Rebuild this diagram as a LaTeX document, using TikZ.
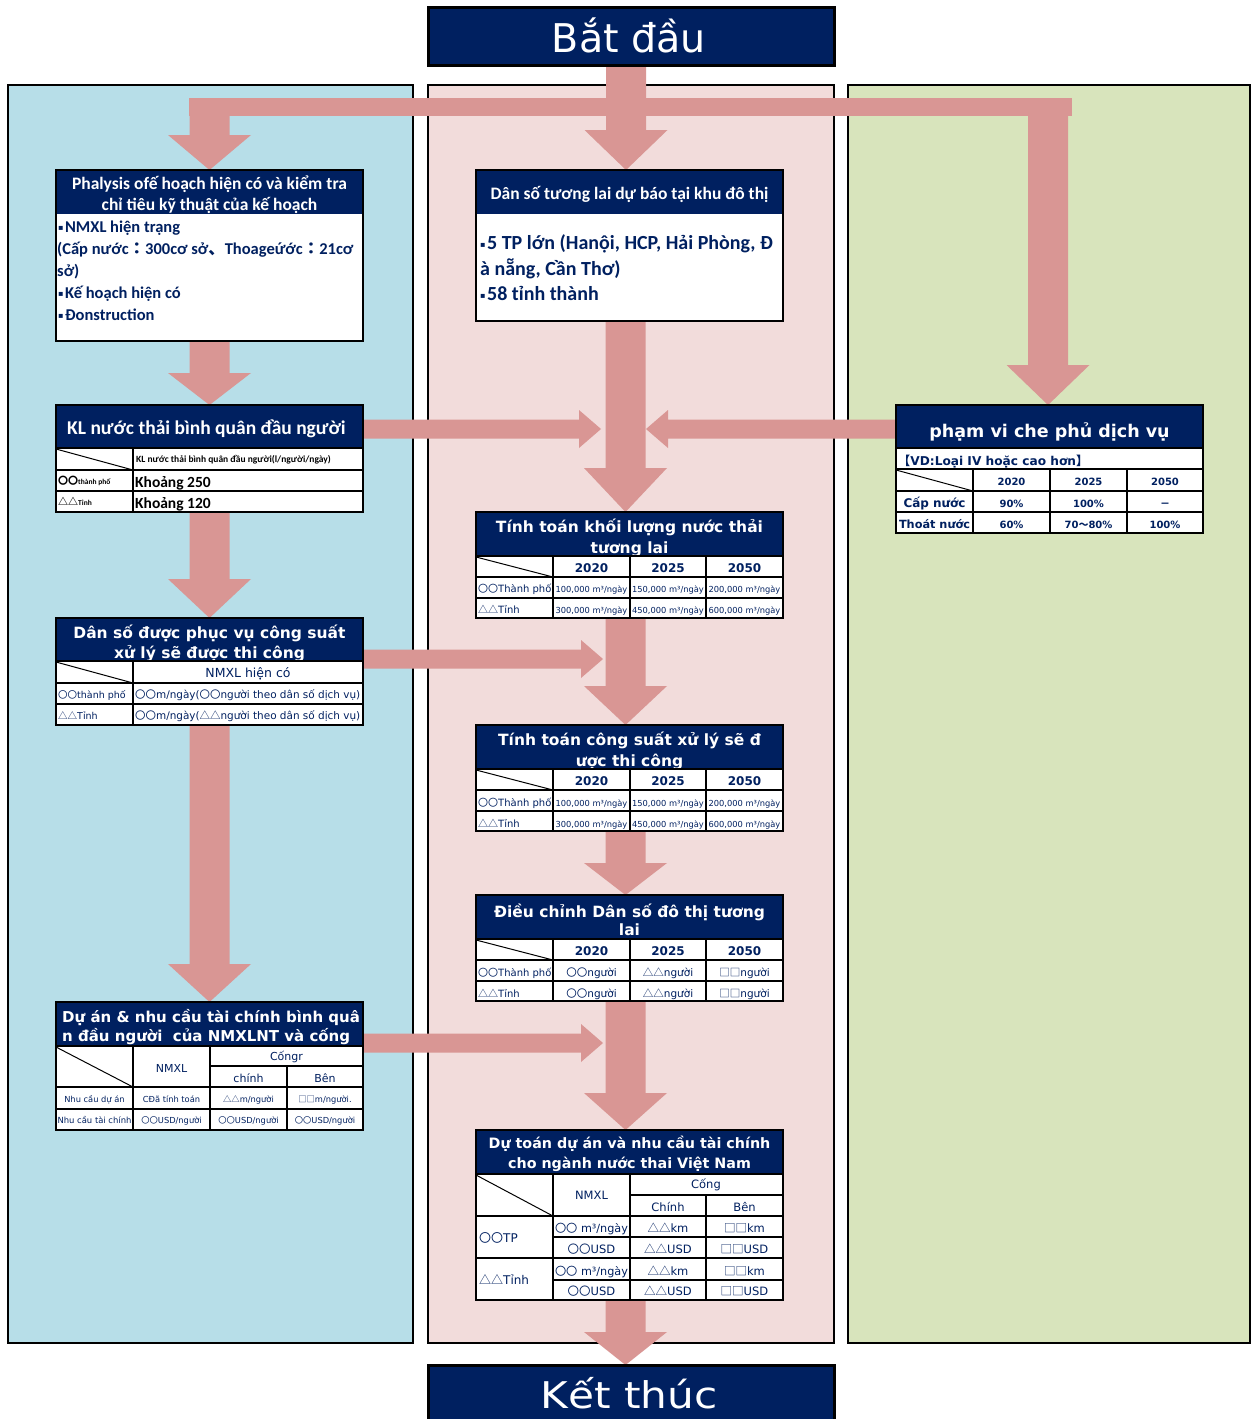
\documentclass[tikz,border=0pt]{standalone}
\usepackage{fontspec}
\usepackage{graphicx}
\setmainfont{Carlito}
\newfontfamily\dv{DejaVu Sans}
\newfontfamily\cjk{Noto Sans CJK JP}
\usetikzlibrary{calc}
\pgfdeclarelayer{bg}
\pgfdeclarelayer{arr}
\pgfsetlayers{bg,arr,main}

\definecolor{navy}{HTML}{002060}
\definecolor{salmon}{HTML}{D99694}
\definecolor{paneL}{HTML}{B7DEE8}
\definecolor{paneM}{HTML}{F2DCDB}
\definecolor{paneR}{HTML}{D8E4BC}

\newcommand\fs[2]{\fontsize{#1}{#2}\selectfont}
\newcommand\cO{{\cjk 〇〇}}
\newcommand\cT{{\cjk △△}}
\newcommand\cS{{\cjk □□}}
\newcommand\bul{{\dv\fs{8}{8}\raisebox{0.3ex}{▪}}\hspace{1.5pt}}

\tikzset{
  pane/.style={draw=black, line width=2.6pt, inner sep=0pt, outer sep=0pt, anchor=north west},
  frame/.style={draw=black, line width=2.6pt},
  grid/.style={draw=black, line width=1.6pt},
  diag/.style={draw=black, line width=1pt},
  blk/.style={fill=salmon},
  htx/.style={inner sep=0pt, text=white, anchor=base},
  tx/.style={inner sep=0pt, text=navy, anchor=base},
  bk/.style={inner sep=0pt, text=black, anchor=base},
  ghd/.style={htx, font=\dv\bfseries\fs{15.5}{15.5}},
}

% white card with a navy title strip and a black frame
\newcommand\card[6]{%
  \node[fill=white, inner sep=0pt, outer sep=0pt, anchor=north west,
        minimum width={(#4-#2)*1pt}, minimum height={(#5-#3)*1pt}] (#1) at (#2,#3) {};
  \fill[navy] (#2,#3) rectangle (#4,#6);
  \draw[frame] (#2,#3) rectangle (#4,#5);}

% fat downward arrow: tail, tip, head length
\newcommand\blkdown[3]{%
  \fill[blk] let \p1=(#1), \p2=(#2) in
    (\x1-20pt,\y1) -- (\x1+20pt,\y1) -- (\x1+20pt,\y2+#3pt) -- (\x1+41.5pt,\y2+#3pt)
    -- (\x1,\y2) -- (\x1-41.5pt,\y2+#3pt) -- (\x1-20pt,\y2+#3pt) -- cycle;}
% fat horizontal arrows: tail, tip
\newcommand\blkright[2]{%
  \fill[blk] let \p1=(#1), \p2=(#2) in
    (\x1,\y1+9.5pt) -- (\x2-22pt,\y1+9.5pt) -- (\x2-22pt,\y1+19pt) -- (\x2,\y1)
    -- (\x2-22pt,\y1-19pt) -- (\x2-22pt,\y1-9.5pt) -- (\x1,\y1-9.5pt) -- cycle;}
\newcommand\blkleft[2]{%
  \fill[blk] let \p1=(#1), \p2=(#2) in
    (\x1,\y1+9.5pt) -- (\x2+22pt,\y1+9.5pt) -- (\x2+22pt,\y1+19pt) -- (\x2,\y1)
    -- (\x2+22pt,\y1-19pt) -- (\x2+22pt,\y1-9.5pt) -- (\x1,\y1-9.5pt) -- cycle;}

\begin{document}
\begin{tikzpicture}[x=1pt,y=-1pt]
\useasboundingbox (0,0) rectangle (1252,1419);

% ---------- column panels ----------
\begin{pgfonlayer}{bg}
\fill[white] (0,0) rectangle (1252,1419);
\node[pane, fill=paneL, minimum width=405pt, minimum height=1258pt] (pl) at (8,85) {};
\node[pane, fill=paneM, minimum width=406pt, minimum height=1258pt] (pm) at (428,85) {};
\node[pane, fill=paneR, minimum width=402pt, minimum height=1258pt] (pr) at (848,85) {};
\end{pgfonlayer}

% ---------- start / end ----------
\node[fill=navy, draw=black, line width=3pt, inner sep=0pt, outer sep=0pt,
      minimum width=406pt, minimum height=58pt] (startbox) at (631,36.5) {};
\node[htx, font=\dv\fs{33}{33}] (starttxt) at (629,52) {\scalebox{1.2}[1.2]{Bắt đầu}};
\node[fill=navy, draw=black, line width=3pt, inner sep=0pt, outer sep=0pt, anchor=north,
      minimum width=406pt, minimum height=64pt] (endbox) at (631,1365) {};
\node[htx, font=\dv\fs{32}{32}] (endtxt) at (629,1408) {\scalebox{1.32}[1.15]{Kết thúc}};

% ---------- left column ----------
\card{l1}{56}{170}{363}{341}{214}
\node[htx, font=\bfseries\fs{17.5}{17.5}] (l1h1) at (209.5,189) {Phalysis ofế hoạch hiện có và kiểm tra};
\node[htx, font=\bfseries\fs{17.5}{17.5}] (l1h2) at (209.5,210) {chỉ tiêu kỹ thuật của kế hoạch};
\begin{scope}[every node/.style={tx, anchor=base west, font=\bfseries\fs{16.5}{16.5}}]
\node (l1a) at (58,232) {\bul NMXL hiện trạng};
\node (l1b) at (57,254) {(Cấp nước{\cjk ：}300cơ sở{\cjk 、}Thoageứớc{\cjk ：}21cơ};
\node (l1c) at (57,276) {sở)};
\node (l1d) at (58,298) {\bul Kế hoạch hiện có};
\node (l1e) at (58,320) {\bul Đonstruction};
\end{scope}

\card{l2}{56}{405}{363}{512}{448}
\node[htx, anchor=base west, font=\bfseries\fs{19.5}{19.5}] (l2h) at (67,434) {KL nước thải bình quân đầu người};
\draw[grid] (56,448) -- (363,448) (56,470) -- (363,470) (56,491) -- (363,491) (133,448) -- (133,512);
\draw[diag] (56,449) -- (133,470);
\node[bk, anchor=base west, font=\bfseries\fs{9.5}{9.5}] (l2c) at (136,462) {KL nước thải bình quân đầu người(l/người/ngày)};
\node[bk, anchor=base west, font=\bfseries\fs{7.5}{7.5}] (l2r1) at (58,484) {{\fs{10}{10}\cO}thành phố};
\node[bk, anchor=base west, font=\bfseries\fs{7.5}{7.5}] (l2r2) at (58,505) {{\fs{10}{10}\cT}Tỉnh};
\node[bk, anchor=base west, font=\bfseries\fs{15.5}{15.5}] (l2v1) at (135,487) {Khoảng 250};
\node[bk, anchor=base west, font=\bfseries\fs{15.5}{15.5}] (l2v2) at (135,508) {Khoảng 120};

\card{l3}{56}{618}{363}{725}{661}
\node[ghd] (l3h1) at (209.5,638) {Dân số được phục vụ công suất};
\node[ghd] (l3h2) at (209.5,658) {xử lý sẽ được thi công};
\draw[grid] (56,661) -- (363,661) (56,683) -- (363,683) (56,704) -- (363,704) (133,661) -- (133,725);
\draw[diag] (56,662) -- (133,683);
\node[tx, font=\dv\fs{12.5}{12.5}] (l3c) at (248,677) {NMXL hiện có};
\node[tx, anchor=base west, font=\dv\fs{9.5}{9.5}] (l3r1) at (58,698) {\cO thành phố};
\node[tx, anchor=base west, font=\dv\fs{9.5}{9.5}] (l3r2) at (58,719) {\cT Tỉnh};
\node[tx, anchor=base west, font=\dv\fs{9}{9}] (l3v1) at (135,698) {\resizebox{225pt}{!}{\cO m/ngày(\cO người theo dân số dịch vụ)}};
\node[tx, anchor=base west, font=\dv\fs{9}{9}] (l3v2) at (135,719) {\resizebox{225pt}{!}{\cO m/ngày(\cT người theo dân số dịch vụ)}};

\card{l4}{56}{1002}{363}{1130}{1046}
\node[htx, anchor=base west, font=\dv\bfseries\fs{15}{15}] (l4h1) at (62,1022) {Dự án \& nhu cầu tài chính bình quâ};
\node[htx, anchor=base west, font=\dv\bfseries\fs{15}{15}] (l4h2) at (62,1041) {n đầu người\ \ của NMXLNT và cống};
\draw[grid] (56,1046) -- (363,1046) (210,1066) -- (363,1066) (56,1087) -- (363,1087) (56,1109) -- (363,1109)
  (133,1046) -- (133,1130) (210,1046) -- (210,1130) (287,1066) -- (287,1130);
\draw[diag] (56,1047) -- (133,1087);
\begin{scope}[every node/.style={tx, font=\dv\fs{11}{11}}]
\node (l4n) at (171.5,1072) {NMXL};
\node (l4c) at (286.5,1060) {Cốngr};
\node (l4c1) at (248.5,1082) {chính};
\node (l4c2) at (325,1082) {Bên};
\end{scope}
\begin{scope}[every node/.style={tx, font=\dv\fs{8.3}{8.3}}]
\node (l4r1) at (94.5,1102) {Nhu cầu dự án};
\node (l4a) at (171.5,1102) {CĐã tính toán};
\node (l4b) at (248.5,1102) {\cT m/người};
\node (l4d) at (325,1102) {\cS m/người.};
\node (l4r2) at (94.5,1123) {\resizebox{74pt}{!}{Nhu cầu tài chính}};
\node (l4e) at (171.5,1123) {\cO USD/người};
\node (l4f) at (248.5,1123) {\cO USD/người};
\node (l4g) at (325,1123) {\cO USD/người};
\end{scope}

% ---------- middle column ----------
\card{m1}{476}{170}{783}{321}{214}
\node[htx, font=\bfseries\fs{17.5}{17.5}] (m1h) at (629.5,199) {Dân số tương lai dự báo tại khu đô thị};
\begin{scope}[every node/.style={tx, anchor=base west, font=\bfseries\fs{20}{20}}]
\node (m1a) at (480,249) {\bul 5 TP lớn (Hanội, HCP, Hải Phòng, Đ};
\node (m1b) at (480,275) {à nẵng, Cần Thơ)};
\node (m1c) at (480,300) {\bul 58 tỉnh thành};
\end{scope}

% year tables
\card{m2}{476}{512}{783}{618}{556}
\begin{scope}
\clip (476,512) rectangle (783,556);
\node[ghd] (m2h1) at (629.5,532) {Tính toán khối lượng nước thải};
\node[ghd] (m2h2) at (629.5,553) {tương lai};
\end{scope}
\draw[grid] (476,556) -- (783,556) (476,577) -- (783,577) (476,598) -- (783,598)
  (553,556) -- (553,618) (630,556) -- (630,618) (706,556) -- (706,618);
\draw[diag] (476,557) -- (553,577);
\begin{scope}[every node/.style={tx, font=\dv\bfseries\fs{12}{12}}]
\node (m2y1) at (591.5,572) {2020};
\node (m2y2) at (668,572) {2025};
\node (m2y3) at (744.5,572) {2050};
\end{scope}
\node[tx, anchor=base west, font=\dv\fs{10}{10}] (m2r1) at (478,592) {\cO Thành phố};
\node[tx, anchor=base west, font=\dv\fs{10}{10}] (m2r2) at (478,613) {\cT Tỉnh};
\begin{scope}[every node/.style={tx, font=\dv\fs{8.3}{8.3}}]
\node (m2a) at (591.5,592) {100,000 m³/ngày};
\node (m2b) at (668,592) {150,000 m³/ngày};
\node (m2c) at (744.5,592) {200,000 m³/ngày};
\node (m2d) at (591.5,613) {300,000 m³/ngày};
\node (m2e) at (668,613) {450,000 m³/ngày};
\node (m2f) at (744.5,613) {600,000 m³/ngày};
\end{scope}

\card{m3}{476}{725}{783}{831}{769}
\begin{scope}
\clip (476,725) rectangle (783,769);
\node[ghd] (m3h1) at (629.5,745) {Tính toán công suất xử lý sẽ đ};
\node[ghd] (m3h2) at (629.5,766) {ược thi công};
\end{scope}
\draw[grid] (476,769) -- (783,769) (476,790) -- (783,790) (476,811) -- (783,811)
  (553,769) -- (553,831) (630,769) -- (630,831) (706,769) -- (706,831);
\draw[diag] (476,770) -- (553,790);
\begin{scope}[every node/.style={tx, font=\dv\bfseries\fs{12}{12}}]
\node (m3y1) at (591.5,785) {2020};
\node (m3y2) at (668,785) {2025};
\node (m3y3) at (744.5,785) {2050};
\end{scope}
\node[tx, anchor=base west, font=\dv\fs{10}{10}] (m3r1) at (478,806) {\cO Thành phố};
\node[tx, anchor=base west, font=\dv\fs{10}{10}] (m3r2) at (478,827) {\cT Tỉnh};
\begin{scope}[every node/.style={tx, font=\dv\fs{8.3}{8.3}}]
\node (m3a) at (591.5,806) {100,000 m³/ngày};
\node (m3b) at (668,806) {150,000 m³/ngày};
\node (m3c) at (744.5,806) {200,000 m³/ngày};
\node (m3d) at (591.5,827) {300,000 m³/ngày};
\node (m3e) at (668,827) {450,000 m³/ngày};
\node (m3f) at (744.5,827) {600,000 m³/ngày};
\end{scope}

\card{m4}{476}{895}{783}{1001}{939}
\node[ghd] (m4h1) at (629.5,917) {Điều chỉnh Dân số đô thị tương};
\node[ghd] (m4h2) at (629.5,935) {lai};
\draw[grid] (476,939) -- (783,939) (476,960) -- (783,960) (476,981) -- (783,981)
  (553,939) -- (553,1001) (630,939) -- (630,1001) (706,939) -- (706,1001);
\draw[diag] (476,940) -- (553,960);
\begin{scope}[every node/.style={tx, font=\dv\bfseries\fs{12}{12}}]
\node (m4y1) at (591.5,955) {2020};
\node (m4y2) at (668,955) {2025};
\node (m4y3) at (744.5,955) {2050};
\end{scope}
\node[tx, anchor=base west, font=\dv\fs{10}{10}] (m4r1) at (478,976) {\cO Thành phố};
\node[tx, anchor=base west, font=\dv\fs{10}{10}] (m4r2) at (478,997) {\cT Tỉnh};
\begin{scope}[every node/.style={tx, font=\dv\fs{10.5}{10.5}}]
\node (m4a) at (591.5,976) {\cO người};
\node (m4b) at (668,976) {\cT người};
\node (m4c) at (744.5,976) {\cS người};
\node (m4d) at (591.5,997) {\cO người};
\node (m4e) at (668,997) {\cT người};
\node (m4f) at (744.5,997) {\cS người};
\end{scope}

\card{m5}{476}{1130}{783}{1300}{1174}
\node[htx, font=\dv\bfseries\fs{14.3}{14.3}] (m5h1) at (629.5,1148) {Dự toán dự án và nhu cầu tài chính};
\node[htx, font=\dv\bfseries\fs{14.3}{14.3}] (m5h2) at (629.5,1168) {cho ngành nước thai Việt Nam};
\draw[grid] (476,1174) -- (783,1174) (630,1195) -- (783,1195) (476,1216) -- (783,1216)
  (553,1237) -- (783,1237) (476,1258) -- (783,1258) (553,1280) -- (783,1280)
  (553,1174) -- (553,1300) (630,1174) -- (630,1300) (706,1195) -- (706,1300);
\draw[diag] (476,1175) -- (553,1216);
\begin{scope}[every node/.style={tx, font=\dv\fs{11.5}{11.5}}]
\node (m5n) at (591.5,1199) {NMXL};
\node (m5c) at (706,1188) {Cống};
\node (m5c1) at (668,1211) {Chính};
\node (m5c2) at (744.5,1211) {Bên};
\node[anchor=base west, font=\dv\fs{12}{12}] (m5r1) at (479,1242) {\cO TP};
\node[anchor=base west, font=\dv\fs{12}{12}] (m5r2) at (479,1284) {\cT Tỉnh};
\node (m5a) at (591.5,1232) {\resizebox{73pt}{!}{\cO\ m³/ngày}};
\node (m5b) at (668,1232) {\cT km};
\node (m5d) at (744.5,1232) {\cS km};
\node (m5e) at (591.5,1253) {\cO USD};
\node (m5f) at (668,1253) {\cT USD};
\node (m5g) at (744.5,1253) {\cS USD};
\node (m5i) at (591.5,1275) {\resizebox{73pt}{!}{\cO\ m³/ngày}};
\node (m5j) at (668,1275) {\cT km};
\node (m5k) at (744.5,1275) {\cS km};
\node (m5l) at (591.5,1295) {\cO USD};
\node (m5m) at (668,1295) {\cT USD};
\node (m5o) at (744.5,1295) {\cS USD};
\end{scope}

% ---------- right column ----------
\card{r1}{896}{405}{1203}{533}{448}
\node[htx, font=\dv\bfseries\fs{17.5}{17.5}] (r1h) at (1049.5,437) {phạm vi che phủ dịch vụ};
\draw[grid] (896,448) -- (1203,448) (896,469) -- (1203,469) (896,491) -- (1203,491) (896,512) -- (1203,512)
  (973,469) -- (973,533) (1050,469) -- (1050,533) (1127,469) -- (1127,533);
\draw[diag] (896,470) -- (973,491);
\node[tx, anchor=base west, font=\dv\bfseries\fs{10.5}{10.5}] (r1n) at (898,465) {\resizebox{190pt}{!}{{\cjk 【}VD:Loại IV hoặc cao hơn{\cjk 】}}};
\begin{scope}[every node/.style={tx, font=\dv\bfseries\fs{10}{10}}]
\node (r1y1) at (1011.5,485) {2020};
\node (r1y2) at (1088.5,485) {2025};
\node (r1y3) at (1165,485) {2050};
\node (r1a) at (934.5,507) {\resizebox{62pt}{!}{Cấp nước}};
\node (r1b) at (1011.5,507) {90\%};
\node (r1c) at (1088.5,507) {100\%};
\node (r1d) at (1165,507) {{\cjk －}};
\node (r1e) at (934.5,528) {\resizebox{71pt}{!}{Thoát nước}};
\node (r1f) at (1011.5,528) {60\%};
\node (r1g) at (1088.5,528) {70{\cjk ～}80\%};
\node (r1i) at (1165,528) {100\%};
\end{scope}

% ---------- connectors ----------
\begin{pgfonlayer}{arr}
\coordinate (jL) at (209.5,98);
\coordinate (jR) at (1048,98);
\fill[blk] ($(jL)+(-21,0)$) rectangle ($(jR)+(24,18)$);
\blkdown{$(startbox.south)+(-5,0)$}{m1.north}{40}
\blkdown{jL}{l1.north}{35}
\blkdown{jR}{r1.north}{40}

\blkdown{l1.south}{l2.north}{32}
\blkdown{l2.south}{l3.north}{39}
\blkdown{l3.south}{l4.north}{38}

\blkdown{$(m1.south)+(-4,0)$}{m2.north}{44}
\blkdown{$(m2.south)+(-4,0)$}{m3.north}{39}
\blkdown{$(m3.south)+(-4,0)$}{m4.north}{32}
\blkdown{$(m4.south)+(-4,0)$}{m5.north}{37}
\blkdown{$(m5.south)+(-4,0)$}{endbox.north}{33}

\coordinate (tipA) at (601,429);
\coordinate (tipB) at (603,659);
\coordinate (tipC) at (603,1043);
\coordinate (tipD) at (646,429);
\blkright{$(l2.north east)+(0,24)$}{tipA}
\blkright{$(l3.north east)+(0,41)$}{tipB}
\blkright{$(l4.north east)+(0,41)$}{tipC}
\blkleft{$(r1.north west)+(0,24)$}{tipD}
\end{pgfonlayer}
\end{tikzpicture}
\end{document}
